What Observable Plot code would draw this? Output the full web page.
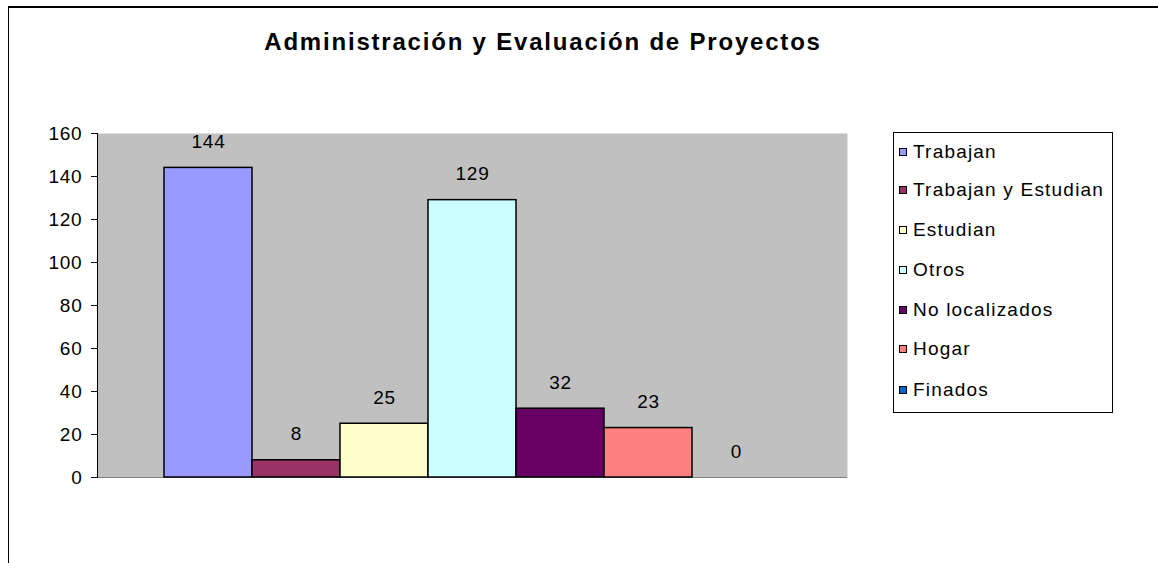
<!DOCTYPE html>
<html>
<head>
<meta charset="utf-8">
<script src="https://cdn.jsdelivr.net/npm/d3@7"></script>
<script src="https://cdn.jsdelivr.net/npm/@observablehq/plot@0.6"></script>
<style>
  html, body { margin: 0; padding: 0; background: #fff; }
  #wrap { position: relative; width: 1158px; height: 563px; overflow: hidden; font-family: "Liberation Sans", Arial, sans-serif; }
  #frame { position: absolute; left: 8px; top: 6px; width: 1200px; height: 600px; border-left: 1px solid #000; border-top: 2px solid #000; box-sizing: border-box; }
  #title { position: absolute; left: 0; width: 1086px; top: 28px; text-align: center; font-weight: bold; font-size: 24px; color: #000; letter-spacing: 1.8px; white-space: nowrap; }
  #legend { position: absolute; left: 893px; top: 132px; width: 220px; height: 281px; border: 1px solid #000; box-sizing: border-box; background: #fff; }
  .li { position: absolute; left: 5px; height: 24px; display: flex; align-items: center; white-space: nowrap; font-size: 19px; letter-spacing: 1.2px; color: #000; }
  .sw { width: 8px; height: 8px; border: 1px solid #000; margin-right: 6px; flex: none; box-sizing: border-box; }
  #chart { position: absolute; left: 0; top: 0; }
</style>
</head>
<body>
<div id="wrap">
  <div id="chart"></div>
  <div id="frame"></div>
  <div id="title">Administración y Evaluación de Proyectos</div>
  <div id="legend"></div>
</div>
<script>
const categories = ["Trabajan", "Trabajan y Estudian", "Estudian", "Otros", "No localizados", "Hogar", "Finados"];
const values = [144, 8, 25, 129, 32, 23, 0];
const colors = ["#9999FF", "#993366", "#FFFFCC", "#CCFFFF", "#660066", "#FF8080", "#0066CC"];
const yTicks = [0, 20, 40, 60, 80, 100, 120, 140, 160];

const data = categories.map((c, i) => ({cat: c, value: values[i]}));

const chart = Plot.plot({
  width: 1158,
  height: 563,
  marginLeft: 97,
  marginRight: 311,
  marginTop: 133,
  marginBottom: 86,
  style: {fontFamily: "'Liberation Sans', Arial, sans-serif", fontSize: "19px", letterSpacing: "0.8px", background: "transparent", color: "#000"},
  x: {domain: categories, paddingInner: 0, paddingOuter: 0.734, axis: null},
  y: {domain: [0, 160], ticks: yTicks, label: null},
  color: {domain: categories, range: colors},
  marks: [
    Plot.frame({fill: "#C0C0C0", stroke: null}),
    Plot.ruleY([0], {stroke: "#808080", strokeWidth: 1}),
    Plot.barY(data.filter(d => d.value > 0), {x: "cat", y: "value", fill: "cat", stroke: "#000", strokeWidth: 1.5}),
    Plot.text(data, {x: "cat", y: "value", text: d => String(d.value), dy: -26, fontSize: 19, fill: "#000"}),
    Plot.axisY({ticks: yTicks, tickSize: 6, tickPadding: 9, fontSize: 19, stroke: "#000", fill: "#000", label: null}),
    Plot.frame({anchor: "left", stroke: "#000", strokeWidth: 1})
  ]
});
document.getElementById("chart").appendChild(chart);

const legend = document.getElementById("legend");
const rowCenters = [152, 190, 230, 270, 310, 349, 390];
categories.forEach((c, i) => {
  const row = document.createElement("div");
  row.className = "li";
  row.style.top = (rowCenters[i] - 132 - 1 - 12) + "px";
  const sw = document.createElement("span");
  sw.className = "sw";
  sw.style.background = colors[i];
  const t = document.createElement("span");
  t.textContent = c;
  row.appendChild(sw);
  row.appendChild(t);
  legend.appendChild(row);
});
</script>
</body>
</html>
